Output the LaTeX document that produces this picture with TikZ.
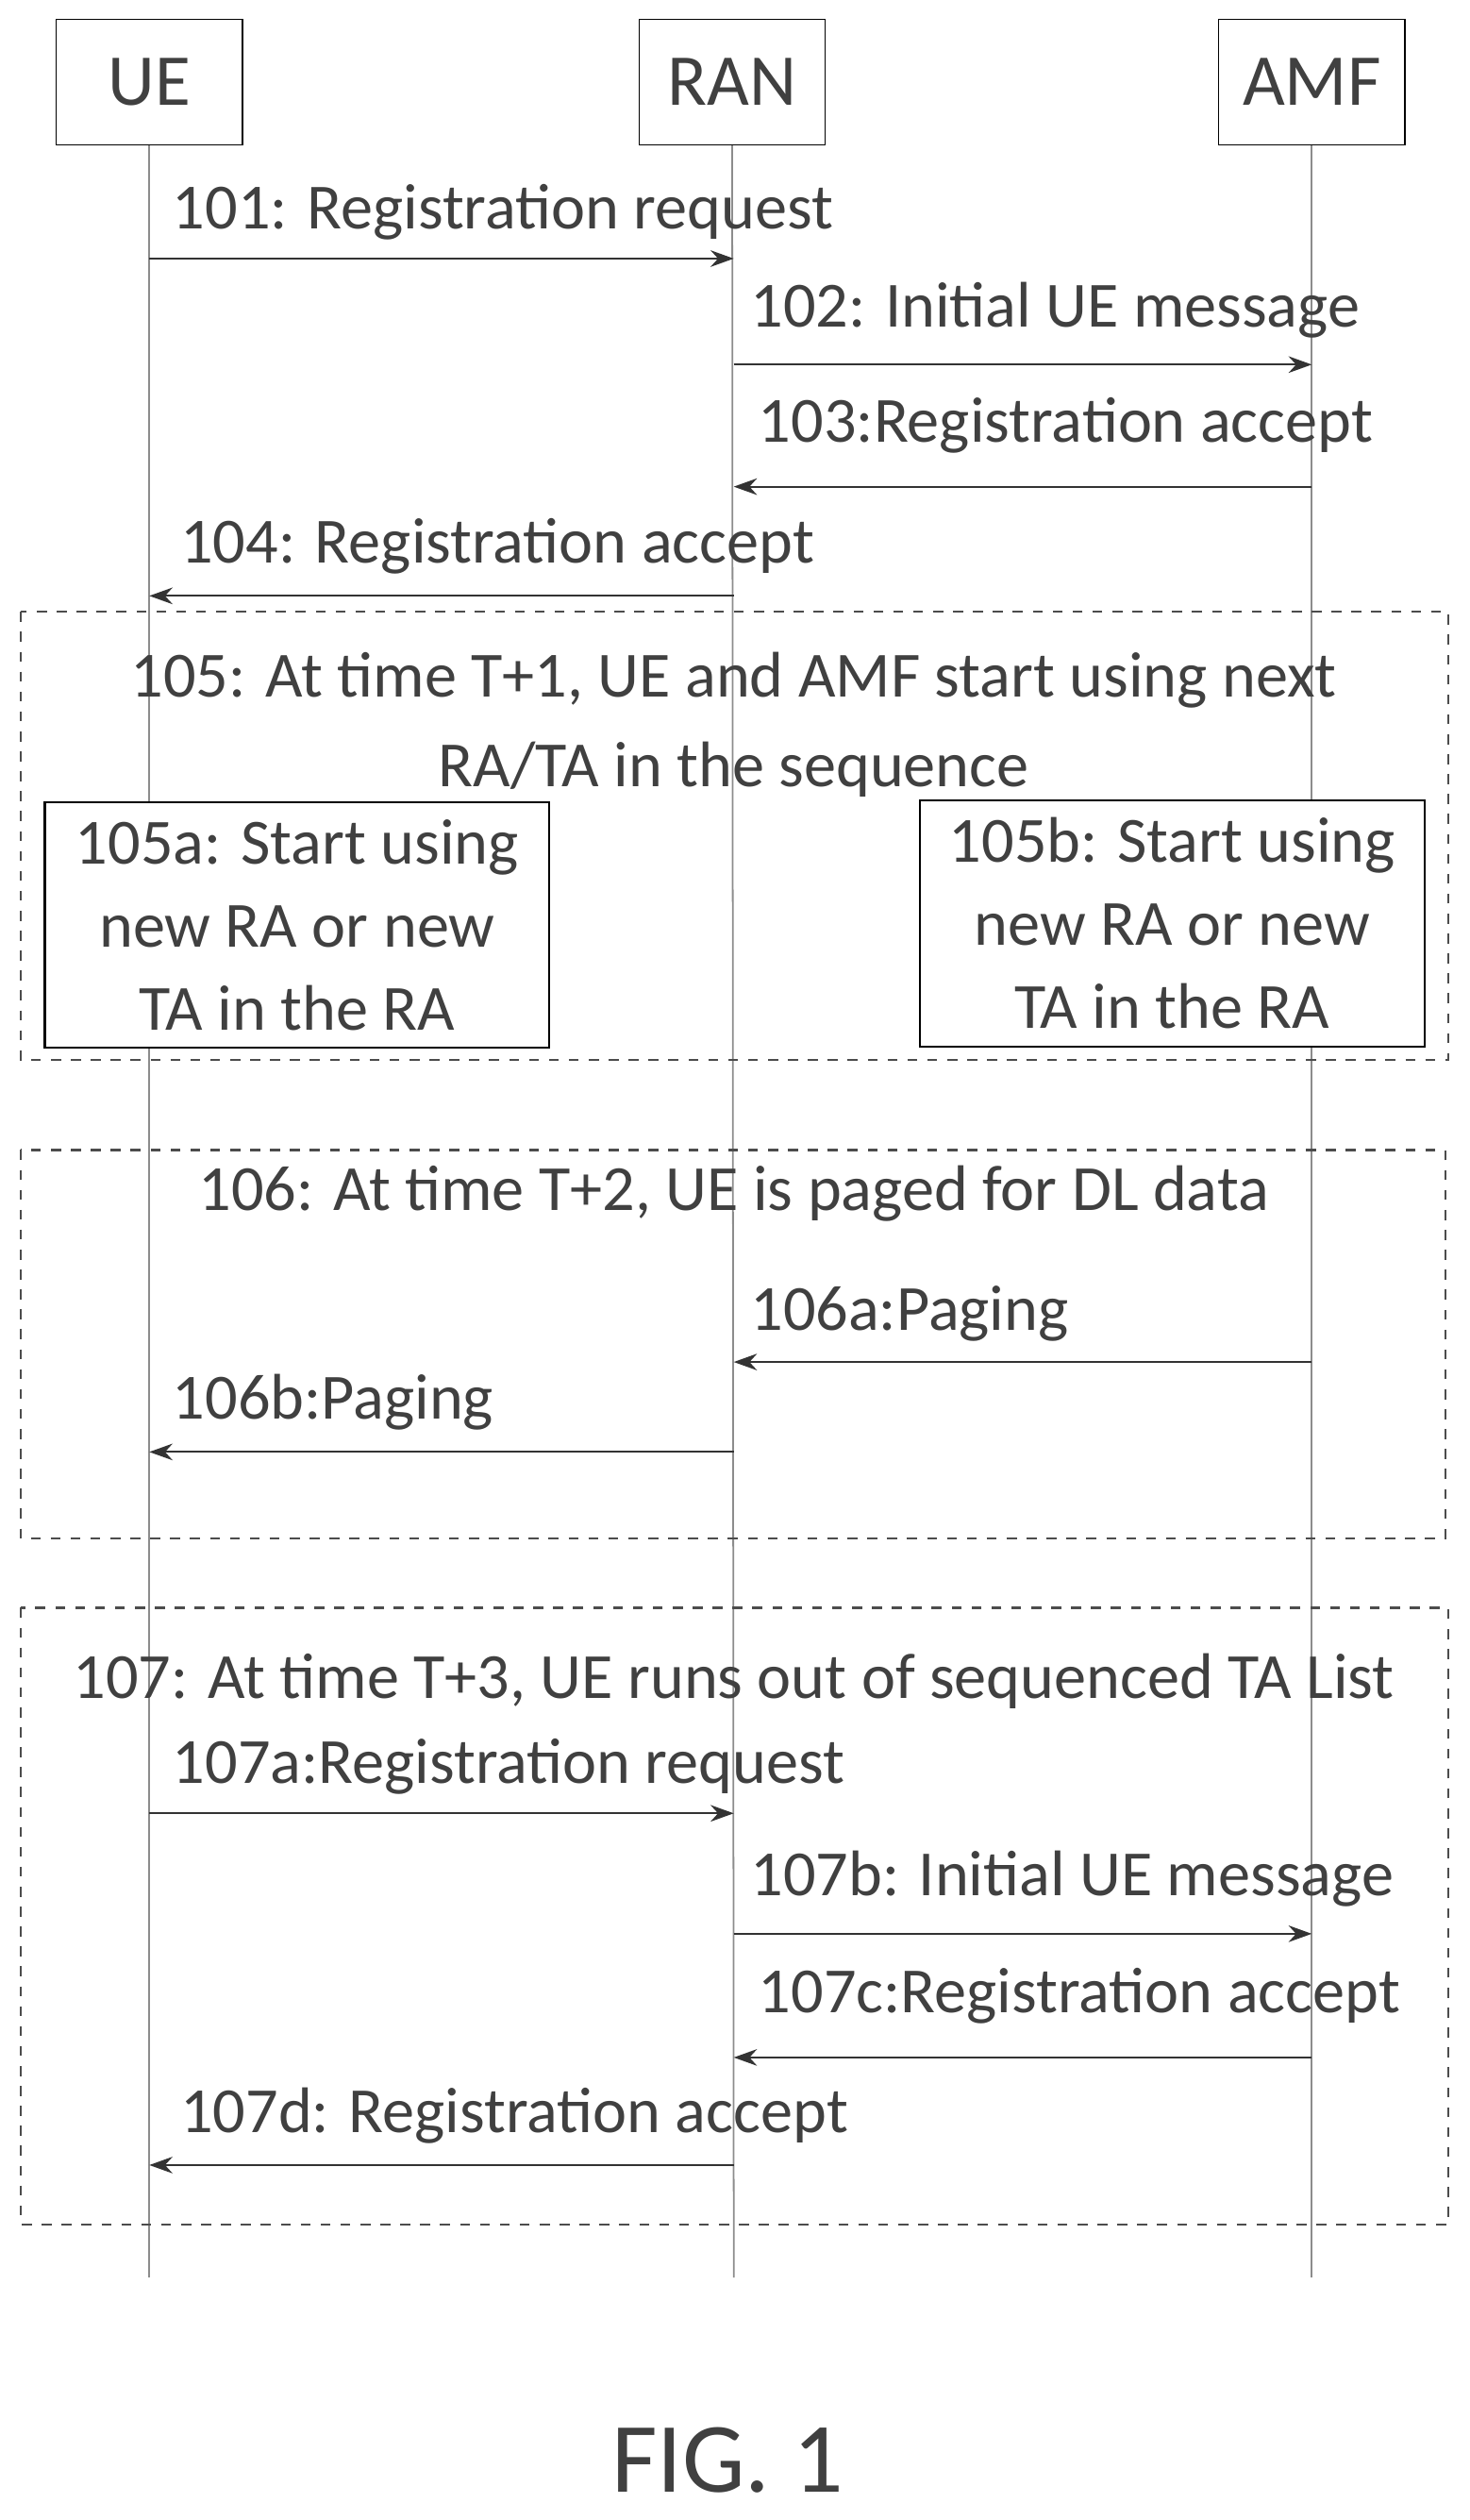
\documentclass[tikz,border=0pt]{standalone}
\usepackage{fontspec}
\setmainfont{Carlito}
\usetikzlibrary{arrows.meta}

\begin{document}
\begin{tikzpicture}[x=0.017cm,y=-0.017cm,
  every node/.style={font=\fontsize{19.4}{25}\selectfont, text=black!75},
  head/.style={draw, minimum width=1.97cm, minimum height=1.33cm, font=\fontsize{22}{26}\selectfont},
  life/.style={draw=black!45, line width=0.5pt},
  msg/.style={draw=black!80, line width=0.6pt, -{Stealth[length=7pt,width=5pt]}},
  lbl/.style={anchor=west, inner sep=0pt},
  grp/.style={draw=black!70, dashed, line width=0.6pt},
  sub/.style={draw, line width=0.6pt, align=center, minimum width=5.34cm, minimum height=2.6cm}]
\useasboundingbox (0,0) rectangle (915,1569);
% participants
\node [head] (UE) at (93,51) {UE};
\node [head] (RAN) at (456,51) {RAN};
\node [head] (AMF) at (817,51) {AMF};
\coordinate (UEend) at (93,1418);
\coordinate (RANend) at (457,1418);
\coordinate (AMFend) at (817,1418);
\draw [life] (UE) -- (UEend);
\draw [life] (RAN) -- (RANend);
\draw [life] (AMF) -- (AMFend);
% groups
\draw [grp] (13,381) rectangle (902,660);
\draw [grp] (13,716) rectangle (900,958);
\draw [grp] (13,1001) rectangle (902,1385);
% messages
\foreach \name/\y in {a/161,b/227,c/303,d/371,e/848,f/904,g/1129,h/1204,i/1281,j/1348} {
  \coordinate (ue\name) at (93,\y);
  \coordinate (ran\name) at (457,\y);
  \coordinate (amf\name) at (817,\y);
}
\draw [msg] (uea) -- (rana);
\node [lbl] at (107,132) {101: Registration request};
\draw [msg] (ranb) -- (amfb);
\node [lbl] at (467,193) {102: Initial UE message};
\draw [msg] (amfc) -- (ranc);
\node [lbl] at (472,265) {103:Registration accept};
\draw [msg] (rand) -- (ued);
\node [lbl] at (112,340) {104: Registration accept};
\node [align=center, inner sep=0pt] at (457,451) {105: At time T+1, UE and AMF start using next\\[2pt]RA/TA in the sequence};
\node [sub, fill=white] (UEnew) at (185,576) {105a: Start using\\new RA or new\\TA in the RA};
\node [sub, fill=white] (AMFnew) at (730,575) {105b: Start using\\new RA or new\\TA in the RA};
\node [inner sep=0pt] at (457,743) {106: At time T+2, UE is paged for DL data};
\draw [msg] (amfe) -- (rane);
\node [lbl] at (467,818) {106a:Paging};
\draw [msg] (ranf) -- (uef);
\node [lbl] at (107,873) {106b:Paging};
\node [inner sep=0pt] at (457,1047) {107: At time T+3, UE runs out of sequenced TA List};
\draw [msg] (ueg) -- (rang);
\node [lbl] at (107,1100) {107a:Registration request};
\draw [msg] (ranh) -- (amfh);
\node [lbl] at (467,1170) {107b: Initial UE message};
\draw [msg] (amfi) -- (rani);
\node [lbl] at (472,1243) {107c:Registration accept};
\draw [msg] (ranj) -- (uej);
\node [lbl] at (112,1317) {107d: Registration accept};
\node [font=\fontsize{30}{34}\selectfont] (fig) at (453,1532) {FIG. 1};
\end{tikzpicture}
\end{document}
